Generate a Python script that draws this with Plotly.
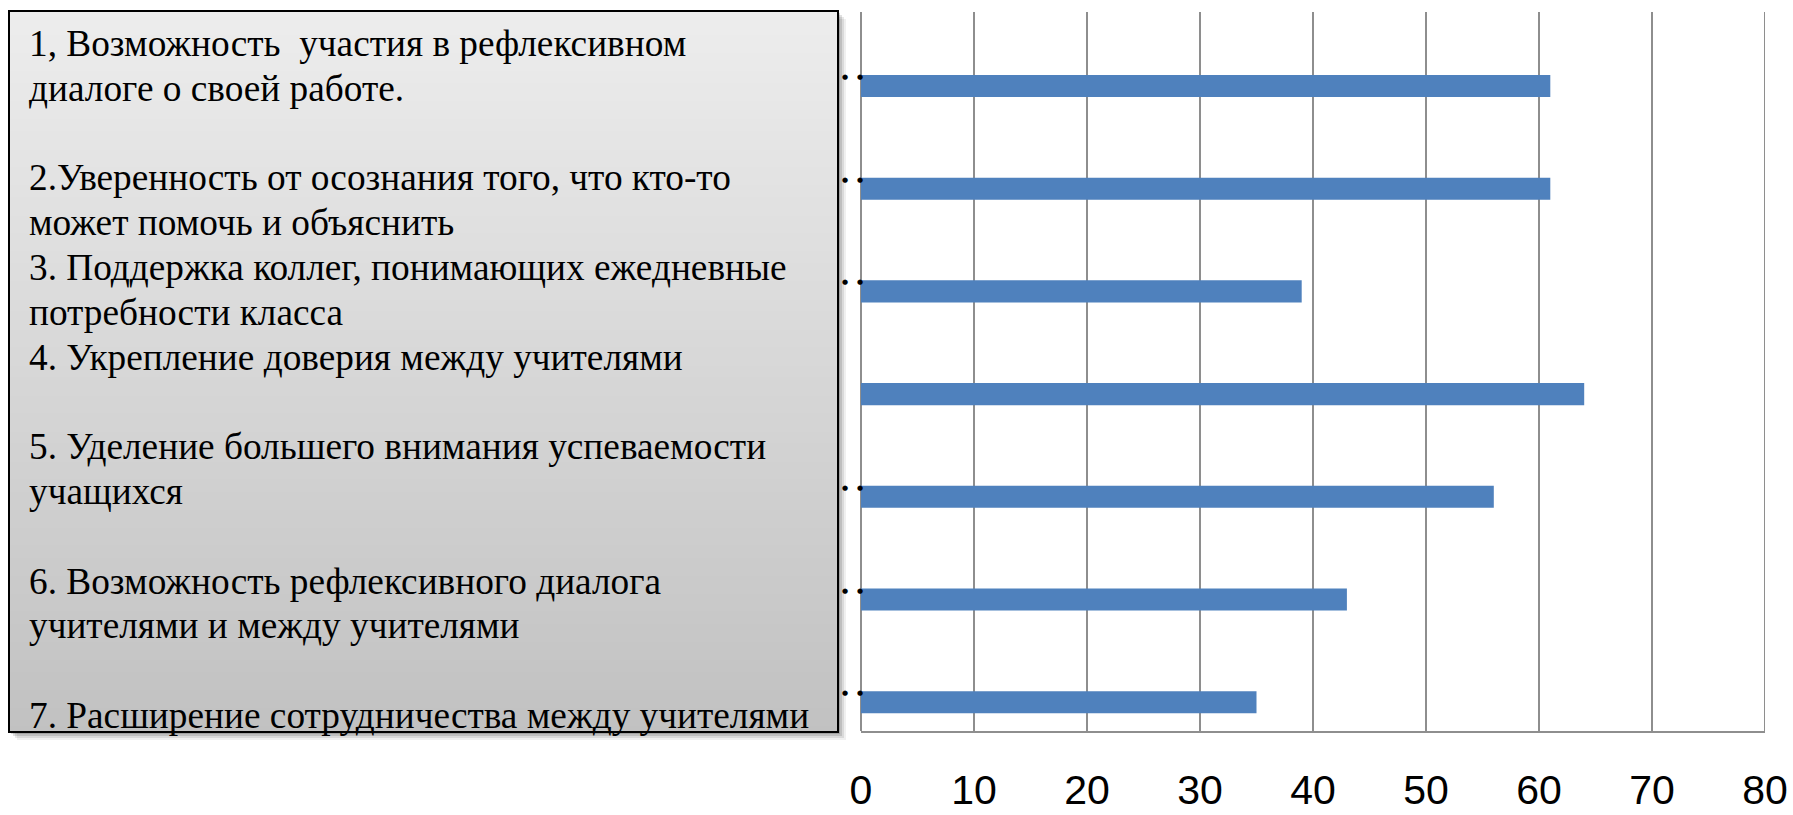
import plotly.graph_objects as go

# ---------------- data ----------------
categories = [
    "Возможность участия в рефлексивном диалоге о своей работе",
    "Уверенность от осознания того, что кто-то может помочь и объяснить",
    "Поддержка коллег, понимающих ежедневные потребности класса",
    "Укрепление доверия между учителями",
    "Уделение большего внимания успеваемости учащихся",
    "Возможность рефлексивного диалога учителями и между учителями",
    "Расширение сотрудничества между учителями",
]
values = [61, 61, 39, 64, 56, 43, 35]
has_dots = [True, True, True, False, True, True, True]
x_ticks = [0, 10, 20, 30, 40, 50, 60, 70, 80]

legend_lines = [
    "1, Возможность  участия в рефлексивном",
    "диалоге о своей работе.",
    "",
    "2.Уверенность от осознания того, что кто-то",
    "может помочь и объяснить",
    "3. Поддержка коллег, понимающих ежедневные",
    "потребности класса",
    "4. Укрепление доверия между учителями",
    "",
    "5. Уделение большего внимания успеваемости",
    "учащихся",
    "",
    "6. Возможность рефлексивного диалога",
    "учителями и между учителями",
    "",
    "7. Расширение сотрудничества между учителями",
]

# ---------------- layout geometry ----------------
W, H = 1793, 815
ML = 861
MR = W - 1765
MT = 12
MB = H - 731
PW = W - ML - MR
PH = H - MT - MB


def px_x(px):
    return (px - ML) / PW


def px_y(py):
    return 1 - (py - MT) / PH


GRID = "#8e8e8e"
BAR = "#4f81bd"
CAT_SHIFT = 0.22   # bars sit slightly below the middle of their category bands

fig = go.Figure(
    go.Bar(
        y=categories,
        x=values,
        orientation="h",
        width=0.215,
        marker=dict(color=BAR, line=dict(width=0)),
        hoverinfo="x+y",
    )
)

shapes = []

# text box: shadow, gradient fill, border
BX0, BY0, BX1, BY1 = 9, 11, 838, 732
for off, op in [(8, 0.06), (6, 0.09), (4, 0.12), (2, 0.15)]:
    shapes.append(dict(
        type="rect", xref="paper", yref="paper",
        x0=px_x(BX0 + off), x1=px_x(BX1 + off),
        y0=px_y(BY0 + off), y1=px_y(BY1 + off),
        fillcolor=f"rgba(0,0,0,{op})", line=dict(width=0), layer="above",
    ))
n_strips = 120
top_c, bot_c = 237, 193
step = (BY1 - BY0) / n_strips
for i in range(n_strips):
    t = (i + 0.5) / n_strips
    c = round(top_c + (bot_c - top_c) * t)
    ya = BY0 + i * step
    yb = min(BY1, ya + step + 1)
    shapes.append(dict(
        type="rect", xref="paper", yref="paper",
        x0=px_x(BX0), x1=px_x(BX1), y0=px_y(ya), y1=px_y(yb),
        fillcolor=f"rgb({c},{c},{c})", line=dict(width=0), layer="above",
    ))
shapes.append(dict(
    type="rect", xref="paper", yref="paper",
    x0=px_x(BX0), x1=px_x(BX1), y0=px_y(BY0), y1=px_y(BY1),
    fillcolor="rgba(0,0,0,0)", line=dict(color="#000000", width=2), layer="above",
))
# right-hand gridline at the end of the value axis
shapes.append(dict(
    type="line", xref="x", yref="paper",
    x0=x_ticks[-1], x1=x_ticks[-1], y0=0, y1=1,
    line=dict(color=GRID, width=2), layer="below",
))

annotations = []

# small dots next to the category axis
for cat, d in zip(categories, has_dots):
    if not d:
        continue
    for cx in (-16, -1):
        annotations.append(dict(
            xref="x", yref="y", x=0, y=cat, xshift=cx, yshift=9,
            xanchor="center", yanchor="middle", showarrow=False,
            text="●", borderpad=0,
            font=dict(family="DejaVu Sans", size=7, color="#000000"),
        ))

FS = 37.3
BASE0, LSTEP = 56, 44.8
for i, line in enumerate(legend_lines):
    if not line:
        continue
    base = BASE0 + LSTEP * i
    annotations.append(dict(
        xref="paper", yref="paper",
        x=px_x(28), y=px_y(base - 0.3375 * FS),
        xanchor="left", yanchor="middle",
        text=line, showarrow=False, align="left", borderpad=0,
        font=dict(family="Liberation Serif, Times New Roman, serif", size=FS, color="#000000"),
    ))

fig.update_layout(
    width=W, height=H,
    margin=dict(l=ML, r=MR, t=MT, b=MB, pad=0, autoexpand=False),
    paper_bgcolor="#ffffff", plot_bgcolor="#ffffff",
    showlegend=False,
    shapes=shapes,
    annotations=annotations,
)
fig.update_xaxes(
    range=[0, 80], tickvals=x_ticks, ticktext=[str(v) for v in x_ticks],
    showgrid=True, gridcolor=GRID, gridwidth=2,
    zeroline=True, zerolinecolor=GRID, zerolinewidth=2,
    showline=True, linecolor=GRID, linewidth=2,
    ticks="", ticklabelstandoff=22, ticklabeloverflow="allow",
    tickfont=dict(family="Liberation Sans", size=41, color="#000000"),
    automargin=False, fixedrange=True,
)
fig.update_yaxes(
    type="category", categoryorder="array", categoryarray=categories,
    range=[len(categories) - 0.5 - CAT_SHIFT, -0.5 - CAT_SHIFT],
    showticklabels=False, showgrid=False,
    zeroline=False, showline=False, ticks="", automargin=False, fixedrange=True,
)

fig.write_html(
    "out.html",
    config={"displayModeBar": False},
    post_script="document.body.style.margin='0px';document.body.style.overflow='hidden';",
)
